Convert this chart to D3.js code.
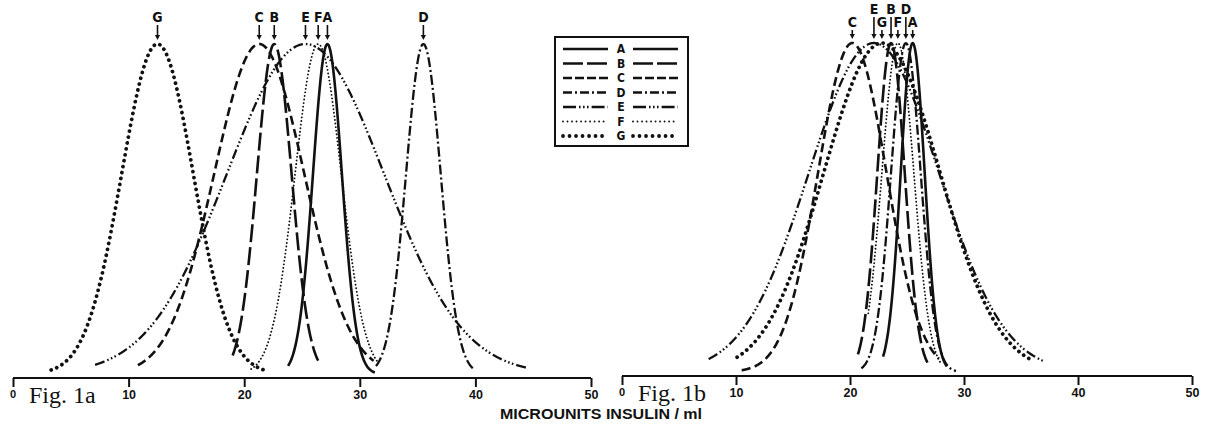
<!DOCTYPE html>
<html>
<head>
<meta charset="utf-8">
<script src="https://cdn.jsdelivr.net/npm/d3@7/dist/d3.min.js"></script>
<style>
  html, body { margin: 0; padding: 0; background: #fff; }
  svg { display: block; }
</style>
</head>
<body>
<svg id="chart" width="1212" height="425"></svg>
<script>
// ---- data ----
const assays = ["A", "B", "C", "D", "E", "F", "G"];
const xTicks = [0, 10, 20, 30, 40, 50];
const axisTitle = "MICROUNITS INSULIN / ml";
const figTitles = ["Fig. 1a", "Fig. 1b"];

// Fig. 1a : mean, standard deviation, drawn range (µU/ml)
const mean1a = [27.2, 22.6, 21.3, 35.5, 25.3, 26.4, 12.5];
const sd1a   = [1.25, 1.5, 3.9, 1.5, 6.8, 2.0, 3.1];
const from1a = [23.8, 19.0, 10.8, 31.4, 7.1, 20.6, 3.3];
const to1a   = [31.3, 26.4, 31.2, 39.9, 44.5, 31.6, 22.1];
const labelRow1a = [0, 0, 0, 0, 0, 0, 0];

// Fig. 1b
const mean1b = [25.5, 23.6, 20.2, 24.9, 22.1, 24.2, 22.8];
const sd1b   = [1.05, 1.2, 3.0, 1.3, 5.7, 1.4, 5.1];
const from1b = [22.9, 20.7, 10.5, 21.0, 7.6, 21.6, 10.1];
const to1b   = [28.5, 26.8, 27.8, 29.3, 37.1, 27.9, 35.8];
const labelRow1b = [0, 1, 0, 1, 1, 0, 0];

// ---- styles ----
const styles = {
  A: { w: 2.6, dash: null, cap: "butt", leg: null },
  B: { w: 2.6, dash: "18 5", cap: "butt", leg: "20 4" },
  C: { w: 2.6, dash: "9 4.5", cap: "butt", leg: "9 3" },
  D: { w: 2.3, dash: "10 3 2 3", cap: "butt", leg: "9 3 2 3" },
  E: { w: 2.3, dash: "10 3 1.6 2.4 1.6 2.4 1.6 3", cap: "butt", leg: "13 3 1.6 2.4 1.6 2.4 1.6 3" },
  F: { w: 1.9, dash: "0.01 3.6", cap: "round", leg: "0.01 4.5" },
  G: { w: 3.8, dash: "0.01 6", cap: "round", leg: "0.01 6.5" }
};

const svg = d3.select("#chart");
svg.append("rect").attr("width", 1212).attr("height", 425).attr("fill", "#fff");

const panels = [
  { x0: 13, x1: 591, axisY: 378, zeroY: 374, topY: 44, mean: mean1a, sd: sd1a, from: from1a, to: to1a, row: labelRow1a, title: figTitles[0], lowRow: 22 },
  { x0: 622, x1: 1192, axisY: 376, zeroY: 372, topY: 43, mean: mean1b, sd: sd1b, from: from1b, to: to1b, row: labelRow1b, title: figTitles[1], lowRow: 27 }
];

const labelFont = "'Liberation Sans Narrow', 'DejaVu Sans Condensed', 'Liberation Sans', sans-serif";

panels.forEach(p => {
  const x = d3.scaleLinear().domain([0, 50]).range([p.x0, p.x1]);
  const y = d3.scaleLinear().domain([0, 1]).range([p.zeroY, p.topY]);
  const g = svg.append("g");

  // axis
  const axis = d3.axisBottom(x).tickValues(xTicks).tickSize(9).tickFormat(d => d === 0 ? "" : d);
  const ag = g.append("g").attr("transform", `translate(0,${p.axisY})`).call(axis);
  ag.select(".domain").attr("d", `M${p.x0},0H${p.x1}`).attr("stroke", "#111").attr("stroke-width", 2);
  ag.selectAll(".tick line").attr("stroke", "#111").attr("stroke-width", 2);
  ag.selectAll(".tick text")
    .attr("y", 12)
    .attr("font-family", "'Liberation Sans', Arial, sans-serif")
    .attr("font-weight", "bold")
    .attr("font-size", 12.5)
    .attr("fill", "#111");
  // small 0 and figure title
  g.append("text").attr("x", x(0)).attr("y", p.axisY + 20)
    .attr("text-anchor", "middle")
    .attr("font-family", "'Liberation Sans', Arial, sans-serif")
    .attr("font-weight", "bold").attr("font-size", 11).attr("fill", "#111").text("0");
  g.append("text").attr("x", x(0) + 16).attr("y", p.axisY + 25)
    .attr("font-family", "'Liberation Serif', 'Times New Roman', serif")
    .attr("font-size", 24).attr("fill", "#111").text(p.title);

  // curves
  const line = d3.line().x(d => x(d[0])).y(d => y(d[1])).curve(d3.curveBasis);
  assays.forEach((k, i) => {
    const m = p.mean[i], s = p.sd[i];
    const pts = d3.range(p.from[i], p.to[i] + 1e-9, 0.05).map(v => [v, Math.exp(-((v - m) ** 2) / (2 * s * s))]);
    const st = styles[k];
    g.append("path").attr("d", line(pts))
      .attr("fill", "none").attr("stroke", "#111")
      .attr("stroke-width", st.w)
      .attr("stroke-dasharray", st.dash)
      .attr("stroke-linecap", st.cap);
  });

  // peak labels with arrows
  assays.forEach((k, i) => {
    const cx = x(p.mean[i]);
    const raised = p.row[i] === 1;
    const ty = raised ? 14 : p.lowRow;
    const stemTop = ty + 3;
    const tip = p.topY - 4;
    g.append("text").attr("x", cx).attr("y", ty).attr("text-anchor", "middle")
      .attr("font-family", labelFont).attr("font-weight", "bold").attr("font-size", 14)
      .attr("fill", "#111").text(k);
    g.append("line").attr("x1", cx).attr("x2", cx).attr("y1", stemTop).attr("y2", tip - 4)
      .attr("stroke", "#111").attr("stroke-width", 1.6);
    g.append("path").attr("d", `M${cx - 2.6},${tip - 5}L${cx + 2.6},${tip - 5}L${cx},${tip}Z`).attr("fill", "#111");
  });
});

// axis title
svg.append("text").attr("x", 601).attr("y", 419).attr("text-anchor", "middle")
  .attr("font-family", "'Liberation Sans', Arial, sans-serif").attr("font-weight", "bold")
  .attr("font-size", 14).attr("textLength", 202).attr("lengthAdjust", "spacingAndGlyphs")
  .attr("fill", "#111").text(axisTitle);

// legend
const lg = svg.append("g");
const lx0 = 555, lx1 = 688, ly0 = 37, rowStep = 14.5, row0 = 49;
lg.append("rect").attr("x", lx0).attr("y", ly0).attr("width", lx1 - lx0)
  .attr("height", row0 - ly0 + rowStep * 6 + 10)
  .attr("fill", "#fff").attr("stroke", "#111").attr("stroke-width", 2);
assays.forEach((k, i) => {
  const yy = row0 + i * rowStep;
  const st = styles[k];
  [[563, 608], [633, 678]].forEach(([a, b]) => {
    lg.append("line").attr("x1", a).attr("x2", b).attr("y1", yy).attr("y2", yy)
      .attr("stroke", "#111").attr("stroke-width", st.w)
      .attr("stroke-dasharray", st.leg).attr("stroke-linecap", st.cap);
  });
  lg.append("text").attr("x", 621).attr("y", yy + 4.3).attr("text-anchor", "middle")
    .attr("font-family", labelFont).attr("font-weight", "bold").attr("font-size", 12)
    .attr("fill", "#111").text(k);
});
</script>
</body>
</html>
